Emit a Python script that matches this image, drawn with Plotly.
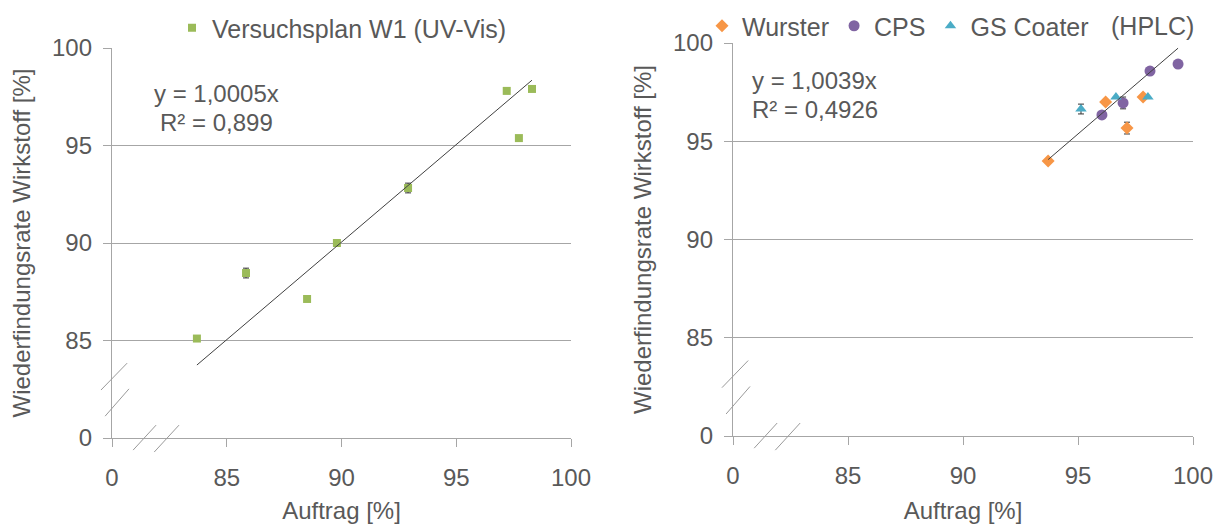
import plotly.graph_objects as go

# Versuchsplan W1 (UV-Vis)
w1_x = [83.7, 85.84, 88.5, 89.8, 92.9, 97.2, 97.73, 98.3]
w1_y = [85.1, 88.46, 87.13, 90.0, 92.82, 97.8, 95.38, 97.9]
w1_err = [0.0, 0.25, 0.0, 0.0, 0.25, 0.0, 0.0, 0.0]

# HPLC series
wurster_x = [93.7, 96.2, 97.13, 97.83]
wurster_y = [94.0, 97.0, 95.67, 97.25]
wurster_err = [0.0, 0.0, 0.3, 0.0]

cps_x = [96.04, 96.96, 98.13, 99.35]
cps_y = [96.34, 96.95, 98.57, 98.93]
cps_err = [0.0, 0.3, 0.0, 0.0]

gs_x = [95.13, 96.65, 98.04]
gs_y = [96.64, 97.25, 97.25]
gs_err = [0.25, 0.0, 0.0]

slope_left = 1.0005
slope_right = 1.0039
eq_left = ["y = 1,0005x", "R² = 0,899"]
eq_right = ["y = 1,0039x", "R² = 0,4926"]

tick_vals = [80, 85, 90, 95, 100]
tick_text = ["0", "85", "90", "95", "100"]

GREEN = "#9BBB59"
ORANGE = "#F79646"
PURPLE = "#8064A2"
CYAN = "#4BACC6"
TEXT = "#595959"
AXIS = "#A6A6A6"
FONT = "Liberation Sans, Arial, sans-serif"

W, H = 1224, 524


def err(vals):
    return dict(type="data", array=vals, visible=True, color="#333333", thickness=1, width=3)


fig = go.Figure()

# left panel
fig.add_trace(go.Scatter(
    x=w1_x, y=w1_y, mode="markers", name="Versuchsplan W1 (UV-Vis)",
    marker=dict(symbol="square", size=8, color=GREEN),
    error_y=err(w1_err), xaxis="x", yaxis="y", legend="legend"))
lx = [min(w1_x), max(w1_x)]
fig.add_trace(go.Scatter(
    x=lx, y=[slope_left * v for v in lx], mode="lines", showlegend=False,
    line=dict(color="#404040", width=1), xaxis="x", yaxis="y"))

# right panel
fig.add_trace(go.Scatter(
    x=wurster_x, y=wurster_y, mode="markers", name="Wurster",
    marker=dict(symbol="diamond", size=10, color=ORANGE),
    error_y=err(wurster_err), xaxis="x2", yaxis="y2", legend="legend2"))
fig.add_trace(go.Scatter(
    x=cps_x, y=cps_y, mode="markers", name="CPS",
    marker=dict(symbol="circle", size=11, color=PURPLE),
    error_y=err(cps_err), xaxis="x2", yaxis="y2", legend="legend2"))
fig.add_trace(go.Scatter(
    x=gs_x, y=gs_y, mode="markers", name="GS Coater",
    marker=dict(symbol="triangle-up", size=10, color=CYAN),
    error_y=err(gs_err), xaxis="x2", yaxis="y2", legend="legend2"))
all_rx = wurster_x + cps_x + gs_x
rx = [min(all_rx), max(all_rx)]
fig.add_trace(go.Scatter(
    x=rx, y=[slope_right * v for v in rx], mode="lines", showlegend=False,
    line=dict(color="#404040", width=1), xaxis="x2", yaxis="y2"))

axis_common = dict(
    range=[80, 100], tickmode="array", tickvals=tick_vals, ticktext=tick_text,
    showline=True, linecolor=AXIS, linewidth=1.3,
    ticks="outside", ticklen=8, tickcolor=AXIS, tickwidth=1.3,
    tickfont=dict(family=FONT, size=24, color=TEXT),
    zeroline=False, automargin=False, fixedrange=True,
)
xax = dict(axis_common, showgrid=False, ticklabelstandoff=10,
           title=dict(text="Auftrag [%]", font=dict(family=FONT, size=24, color=TEXT), standoff=14))
yax = dict(axis_common, showgrid=True, gridcolor=AXIS, gridwidth=1.3, ticklabelstandoff=6,
           title=dict(text="Wiederfindungsrate Wirkstoff [%]",
                      font=dict(family=FONT, size=24, color=TEXT), standoff=14))

fig.update_layout(
    width=W, height=H, margin=dict(l=0, r=0, t=0, b=0),
    paper_bgcolor="white", plot_bgcolor="white",
    font=dict(family=FONT, color=TEXT),
    xaxis=dict(xax, domain=[112 / W, 571 / W], anchor="y"),
    yaxis=dict(yax, domain=[86 / H, 476 / H], anchor="x"),
    xaxis2=dict(xax, domain=[733 / W, 1193 / W], anchor="y2"),
    yaxis2=dict(yax, domain=[88 / H, 481 / H], anchor="x2"),
    legend=dict(orientation="h", x=342 / W, y=1 - 28 / H, xanchor="center", yanchor="middle",
                font=dict(family=FONT, size=25, color=TEXT), bgcolor="rgba(0,0,0,0)",
                itemwidth=30, tracegroupgap=0),
    legend2=dict(orientation="h", x=898 / W, y=1 - 26 / H, xanchor="center", yanchor="middle",
                 font=dict(family=FONT, size=25, color=TEXT), bgcolor="rgba(0,0,0,0)",
                 itemwidth=30, tracegroupgap=0),
    showlegend=True,
)

# equation labels and the (HPLC) tag
ann_font = dict(family=FONT, size=24, color=TEXT)
fig.add_annotation(text=eq_left[0], x=216 / W, y=1 - 93 / H, xref="paper", yref="paper",
                   showarrow=False, font=ann_font, xanchor="center", yanchor="middle")
fig.add_annotation(text=eq_left[1], x=216 / W, y=1 - 122 / H, xref="paper", yref="paper",
                   showarrow=False, font=ann_font, xanchor="center", yanchor="middle")
fig.add_annotation(text=eq_right[0], x=750 / W, y=1 - 80 / H, xref="paper", yref="paper",
                   showarrow=False, font=ann_font, xanchor="left", yanchor="middle")
fig.add_annotation(text=eq_right[1], x=750 / W, y=1 - 110 / H, xref="paper", yref="paper",
                   showarrow=False, font=ann_font, xanchor="left", yanchor="middle")
fig.add_annotation(text="(HPLC)", x=1196 / W, y=1 - 26 / H, xref="paper", yref="paper",
                   showarrow=False, font=dict(family=FONT, size=25, color=TEXT),
                   xanchor="right", yanchor="middle")

# axis-break slashes on both axes of each panel
breaks_y = [(-0.024, 0.123, 0.033, 0.192), (-0.015, 0.056, 0.037, 0.126)]
breaks_x = [(0.046, -0.031, 0.096, 0.033), (0.092, -0.036, 0.146, 0.033)]
for xs, ys in (("x", "y"), ("x2", "y2")):
    for x0, y0, x1, y1 in breaks_y + breaks_x:
        fig.add_shape(type="line", xref=f"{xs} domain", yref=f"{ys} domain",
                      x0=x0, y0=y0, x1=x1, y1=y1, line=dict(color="#9A9A9A", width=1))

fig.write_html("out.html")
